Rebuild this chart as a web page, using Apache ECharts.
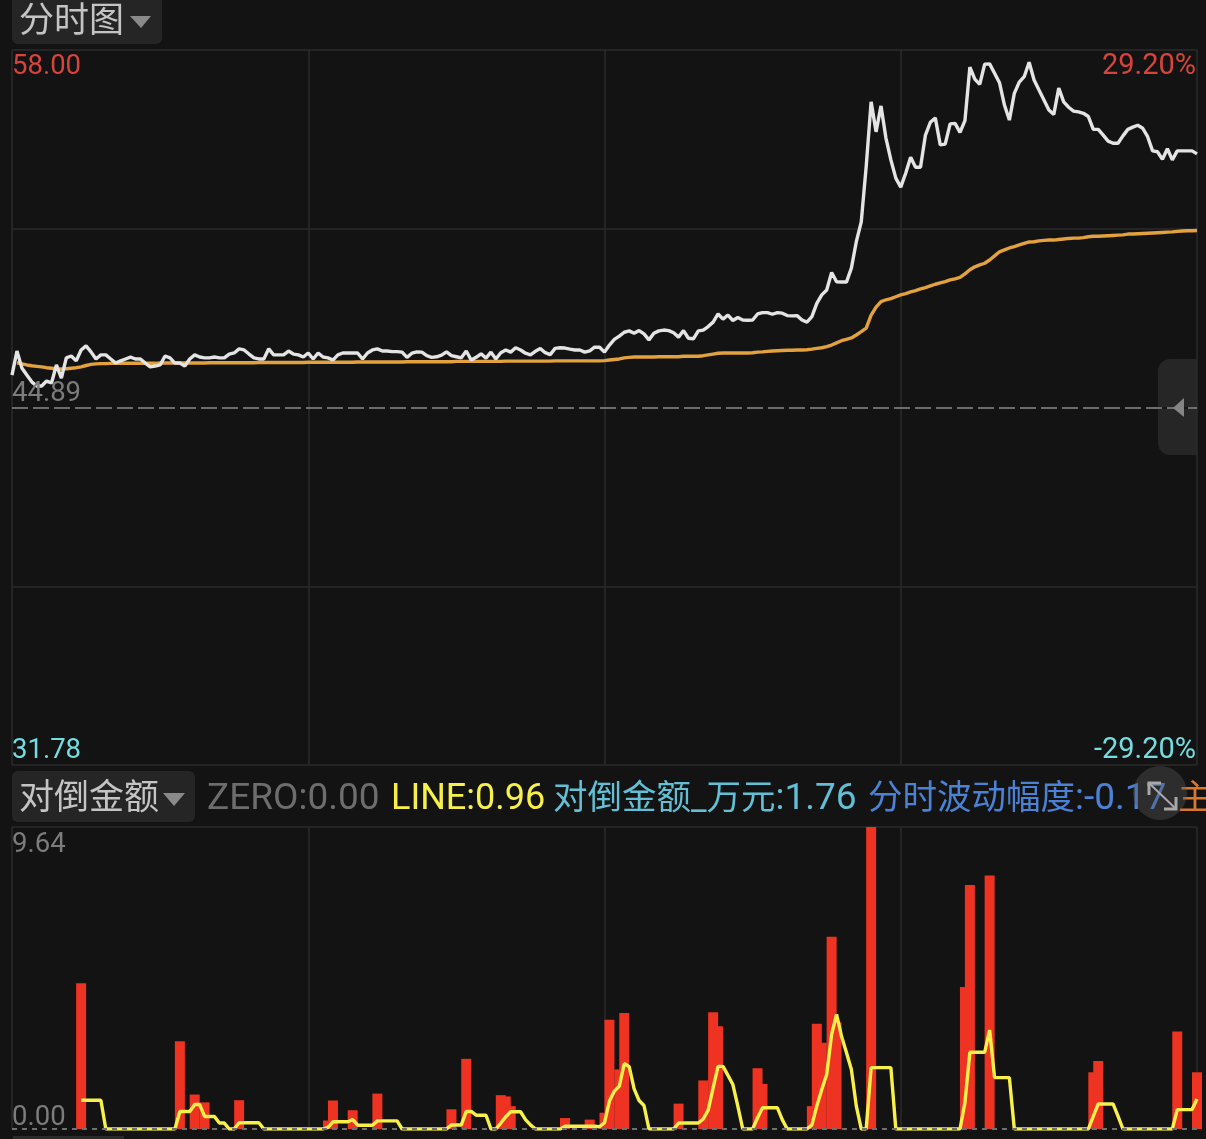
<!DOCTYPE html>
<html lang="zh-CN" style="height: 100%">

<head>
    <meta charset="utf-8" />
    <script src="https://cdn.jsdelivr.net/npm/echarts@6/dist/echarts.min.js"></script>
</head>

<body style="height: 100%; margin: 0; background: #131313">
    <div id="container" style="width: 1206px;height: 1139px;"></div>
    <script type="text/javascript">
        var dom = document.getElementById('container');
        var myChart = echarts.init(dom, null, {
            renderer: 'canvas'
        });

        // 分时价格，每分钟一个点，0..240
        const price = [
            46.08, 46.96, 46.34, 46.08, 45.83, 45.68, 45.68, 45.86, 45.79, 46.45,
            45.97, 46.71, 46.78, 46.60, 47.00, 47.15, 46.93, 46.67, 46.82, 46.82,
            46.67, 46.52, 46.60, 46.67, 46.74, 46.67, 46.67, 46.52, 46.38, 46.41,
            46.45, 46.78, 46.71, 46.52, 46.52, 46.41, 46.67, 46.82, 46.74, 46.71,
            46.71, 46.74, 46.71, 46.71, 46.85, 46.89, 47.04, 47.00, 46.85, 46.71,
            46.67, 46.67, 47.04, 46.82, 46.82, 46.82, 46.96, 46.85, 46.82, 46.74,
            46.89, 46.67, 46.89, 46.74, 46.71, 46.63, 46.82, 46.89, 46.89, 46.89,
            46.89, 46.67, 46.89, 47.00, 47.04, 46.96, 46.96, 46.94, 46.94, 46.92,
            46.73, 46.88, 46.93, 46.92, 46.79, 46.73, 46.75, 46.81, 46.93, 46.79,
            46.75, 46.71, 46.96, 46.63, 46.73, 46.86, 46.70, 46.92, 46.67, 46.90,
            47.00, 46.92, 47.08, 47.00, 46.88, 46.82, 46.95, 47.05, 46.90, 46.83,
            47.06, 47.08, 47.07, 47.03, 47.00, 47.00, 46.92, 46.97, 47.10, 47.10,
            46.92, 47.18, 47.39, 47.51, 47.65, 47.70, 47.61, 47.71, 47.59, 47.37,
            47.61, 47.70, 47.73, 47.71, 47.63, 47.47, 47.71, 47.43, 47.41, 47.70,
            47.73, 47.86, 48.02, 48.32, 48.13, 48.28, 48.08, 48.19, 48.10, 48.09,
            48.10, 48.32, 48.37, 48.37, 48.31, 48.37, 48.35, 48.26, 48.25, 48.26,
            48.10, 48.02, 48.22, 48.71, 49.02, 49.20, 49.84, 49.50, 49.49, 49.49,
            50.00, 50.97, 51.70, 53.72, 56.10, 55.00, 55.95, 54.77, 53.97, 53.30,
            52.97, 53.48, 54.07, 53.70, 53.70, 54.88, 55.35, 55.51, 54.52, 54.55,
            55.29, 55.31, 54.98, 55.41, 57.37, 56.93, 56.74, 57.48, 57.49, 57.15,
            56.80, 55.98, 55.43, 56.41, 56.82, 57.02, 57.55, 56.90, 56.53, 56.17,
            55.80, 55.64, 56.60, 56.10, 55.90, 55.76, 55.73, 55.68, 55.56, 55.09,
            55.09, 54.88, 54.66, 54.58, 54.58, 54.85, 55.09, 55.17, 55.24, 55.13,
            54.82, 54.30, 54.27, 53.99, 54.38, 53.97, 54.30, 54.30, 54.30, 54.30,
            54.19
        ];

        // 均价线
        const avgPrice = [
            null, 46.53, 46.49, 46.45, 46.42, 46.40, 46.38, 46.35, 46.33, 46.30,
            46.30, 46.31, 46.33, 46.35, 46.38, 46.43, 46.47, 46.49, 46.50, 46.50,
            46.51, 46.51, 46.51, 46.51, 46.51, 46.51, 46.51, 46.51, 46.51, 46.51,
            46.52, 46.52, 46.52, 46.52, 46.52, 46.52, 46.52, 46.52, 46.52, 46.52,
            46.53, 46.53, 46.53, 46.53, 46.53, 46.53, 46.53, 46.53, 46.53, 46.53,
            46.54, 46.54, 46.54, 46.54, 46.54, 46.54, 46.54, 46.54, 46.54, 46.54,
            46.55, 46.55, 46.55, 46.55, 46.55, 46.55, 46.55, 46.55, 46.55, 46.55,
            46.56, 46.56, 46.56, 46.56, 46.56, 46.56, 46.56, 46.56, 46.56, 46.56,
            46.57, 46.57, 46.57, 46.57, 46.57, 46.57, 46.57, 46.57, 46.57, 46.57,
            46.58, 46.58, 46.58, 46.58, 46.58, 46.58, 46.58, 46.58, 46.58, 46.58,
            46.59, 46.59, 46.59, 46.59, 46.59, 46.59, 46.59, 46.59, 46.59, 46.59,
            46.60, 46.60, 46.60, 46.60, 46.60, 46.60, 46.60, 46.60, 46.60, 46.60,
            46.61, 46.63, 46.65, 46.67, 46.71, 46.73, 46.74, 46.74, 46.74, 46.74,
            46.74, 46.75, 46.75, 46.75, 46.75, 46.75, 46.77, 46.77, 46.77, 46.77,
            46.79, 46.82, 46.85, 46.88, 46.89, 46.89, 46.89, 46.89, 46.89, 46.89,
            46.90, 46.92, 46.93, 46.95, 46.96, 46.97, 46.98, 46.99, 46.99, 47.00,
            47.00, 47.01, 47.03, 47.06, 47.08, 47.12, 47.18, 47.26, 47.34, 47.39,
            47.44, 47.55, 47.67, 47.80, 48.28, 48.57, 48.77, 48.84, 48.88, 48.95,
            49.02, 49.07, 49.13, 49.18, 49.24, 49.29, 49.35, 49.41, 49.46, 49.51,
            49.57, 49.61, 49.66, 49.79, 49.94, 50.05, 50.12, 50.18, 50.30, 50.45,
            50.60, 50.67, 50.74, 50.79, 50.85, 50.91, 50.96, 50.97, 51.00, 51.02,
            51.03, 51.03, 51.05, 51.07, 51.09, 51.10, 51.10, 51.12, 51.15, 51.17,
            51.17, 51.18, 51.19, 51.20, 51.21, 51.22, 51.25, 51.25, 51.26, 51.27,
            51.28, 51.29, 51.30, 51.31, 51.32, 51.33, 51.35, 51.36, 51.37, 51.37,
            51.38
        ];

        // 对倒金额柱子：第几分钟、数值
        const barMinutes = [14, 34, 37, 39, 46, 64, 65, 69, 74, 89, 92, 99, 100, 101, 112, 117, 120, 121, 123, 124,
            135, 140, 142, 143, 151, 152, 162, 163, 164, 166, 167, 174, 193, 194, 198, 219, 220, 236, 240];
        const barValues = [4.65, 2.80, 1.10, 0.85, 0.92, 0.27, 0.91, 0.60, 1.13, 0.63, 2.24, 1.08, 1.04, 0.73, 0.35, 0.30, 0.52, 3.49, 1.90, 3.70,
            0.81, 1.55, 3.73, 3.28, 1.94, 1.44, 0.73, 3.36, 2.75, 6.14, 3.41, 9.64, 4.53, 7.79, 8.09, 1.81, 2.17, 3.11, 1.81];

        // LINE 黄线的非零点，其余分钟为 0，第 14 分钟之前没有数据
        const lineStart = 14;
        const lineMinutes = [14, 15, 16, 17, 18, 34, 35, 36, 37, 38, 39, 40, 41, 42, 43, 46, 47, 48, 49, 50, 64, 65, 66, 67, 68, 69, 70, 71, 72, 73, 74, 75, 76, 77, 78,
            89, 90, 91, 92, 93, 94, 95, 96, 99, 100, 101, 102, 103, 104, 105, 112, 113, 114, 115, 116, 117, 118, 119, 120, 121, 122, 123, 124, 125, 126, 127, 128,
            135, 136, 137, 138, 139, 140, 141, 142, 143, 144, 145, 146, 147, 151, 152, 153, 154, 155, 156,
            162, 163, 164, 165, 166, 167, 168, 169, 170, 171, 174, 175, 176, 177, 178,
            193, 194, 195, 196, 197, 198, 199, 200, 201, 202, 219, 220, 221, 222, 223, 224, 236, 237, 238, 239, 240];
        const lineValues = [0.92, 0.92, 0.92, 0.92, 0.92, 0.56, 0.56, 0.56, 0.78, 0.78, 0.40, 0.40, 0.40, 0.19, 0.19, 0.20, 0.20, 0.20, 0.20, 0.20, 0.05, 0.23, 0.23, 0.23, 0.23, 0.30, 0.12, 0.12, 0.12, 0.12, 0.26, 0.26, 0.26, 0.26, 0.26,
            0.13, 0.13, 0.13, 0.56, 0.56, 0.44, 0.44, 0.44, 0.19, 0.39, 0.55, 0.55, 0.55, 0.30, 0.13, 0.09, 0.09, 0.09, 0.09, 0.09, 0.09, 0.09, 0.07, 0.20, 0.89, 1.21, 1.37, 2.09, 1.99, 1.28, 0.91, 0.75,
            0.19, 0.19, 0.19, 0.19, 0.19, 0.32, 0.60, 1.31, 2.00, 2.00, 1.71, 1.42, 0.73, 0.36, 0.68, 0.68, 0.68, 0.68, 0.30,
            0.13, 0.73, 1.26, 1.74, 3.02, 3.66, 2.96, 2.44, 1.90, 0.73, 1.96, 1.96, 1.96, 1.96, 1.96,
            0.84, 2.45, 2.45, 2.45, 2.45, 3.16, 1.64, 1.64, 1.64, 1.64, 0.41, 0.80, 0.80, 0.80, 0.80, 0.41, 0.62, 0.62, 0.62, 0.62, 0.96];

        const minutes = price.map(function (v, i) { return i; });
        const priceMin = 31.78, priceMax = 58.00, priceMid = 44.89;
        const pctMax = 29.20;
        const subMax = 9.64;

        const mainTitle = '分时图';
        const subTitle = '对倒金额';
        // 指标读数：中文部分和数字部分字号不同
        const legendNames = ['ZERO', 'LINE', '对倒金额_万元', '分时波动幅度'];
        const legendValues = [':0.00', ':0.96', ':1.76', ':-0.17'];
        const extraLegend = '主';

        const colors = {
            bg: '#131313', grid: '#2b2b2b', white: '#e4e4e4', orange: '#e3a23e', yellow: '#f8f04a', bar: '#ee3322',
            red: '#d9433b', cyan: '#74dde0', grey: '#7c7c7c', tab: '#252525', tabText: '#c4c4c4', arrow: '#8a8a8a'
        };
        const fontFamily = 'Roboto, "Noto Sans CJK SC", sans-serif';

        const barData = minutes.map(function () { return null; });
        barMinutes.forEach(function (m, i) { barData[m] = barValues[i]; });
        const lineData = minutes.map(function (m) { return m < lineStart ? null : 0; });
        lineMinutes.forEach(function (m, i) { lineData[m] = lineValues[i]; });

        function xAxisFor(gridIndex) {
            return {
                type: 'category',
                gridIndex: gridIndex,
                boundaryGap: false,
                data: minutes,
                axisLine: { show: false },
                axisTick: { show: false },
                axisLabel: { show: false },
                splitLine: {
                    show: true,
                    interval: function (index) { return index % 60 === 0; },
                    lineStyle: { color: colors.grid, width: 1.5 }
                }
            };
        }

        function legendText(x, index, color, latinSize) {
            const isLatin = /^[A-Z]+$/.test(legendNames[index]);
            return {
                type: 'text', x: x, y: 800, z: 5,
                style: {
                    text: '{n|' + legendNames[index] + '}{v|' + legendValues[index] + '}',
                    verticalAlign: 'middle',
                    rich: {
                        n: { fill: color, fontFamily: fontFamily, fontSize: isLatin ? latinSize : 34.5 },
                        v: { fill: color, fontFamily: fontFamily, fontSize: latinSize }
                    }
                }
            };
        }

        var option = {
            backgroundColor: colors.bg,
            animation: false,
            grid: [
                { left: 12, right: 9, top: 50, height: 715 },
                { left: 12, right: 9, top: 827, height: 302 }
            ],
            xAxis: [xAxisFor(0), xAxisFor(1)],
            yAxis: [
                {
                    type: 'value', gridIndex: 0, min: priceMin, max: priceMax, interval: (priceMax - priceMin) / 4,
                    axisLine: { show: false }, axisTick: { show: false },
                    axisLabel: {
                        inside: true, margin: 0, fontSize: 27.5, fontFamily: fontFamily, padding: [3, 0, 0, 0],
                        verticalAlignMinLabel: 'bottom', verticalAlignMaxLabel: 'top',
                        formatter: function (v, i) { return i === 0 || i === 4 ? v.toFixed(2) : ''; },
                        color: function (v) { return v > priceMid ? colors.red : colors.cyan; }
                    },
                    splitLine: { lineStyle: { color: [colors.grid, colors.grid, colors.bg, colors.grid, colors.grid], width: 1.5 } }
                },
                {
                    type: 'value', gridIndex: 0, position: 'right', min: -pctMax, max: pctMax, interval: pctMax / 2,
                    axisLine: { show: false }, axisTick: { show: false }, splitLine: { show: false },
                    axisLabel: {
                        inside: true, margin: 1, fontSize: 29, fontFamily: fontFamily, padding: [2, 0, 0, 0],
                        verticalAlignMinLabel: 'bottom', verticalAlignMaxLabel: 'top',
                        formatter: function (v, i) { return i === 0 || i === 4 ? v.toFixed(2) + '%' : ''; },
                        color: function (v) { return v > 0 ? colors.red : colors.cyan; }
                    }
                },
                {
                    type: 'value', gridIndex: 1, min: 0, max: subMax, interval: subMax,
                    axisLine: { show: false }, axisTick: { show: false },
                    axisLabel: {
                        inside: true, margin: 0, fontSize: 27.5, lineHeight: 22, fontFamily: fontFamily, color: colors.grey, padding: [7, 0, 0, 0],
                        verticalAlignMinLabel: 'bottom', verticalAlignMaxLabel: 'top',
                        formatter: function (v) { return v.toFixed(2); }
                    },
                    splitLine: { lineStyle: { color: [colors.bg, colors.grid], width: 1.5 } }
                }
            ],
            series: [
                {
                    name: 'price', type: 'line', xAxisIndex: 0, yAxisIndex: 0, data: price, showSymbol: false,
                    lineStyle: { color: colors.white, width: 3.4 }, z: 4,
                    markLine: {
                        silent: true, symbol: 'none', animation: false,
                        lineStyle: { color: '#8c8c8c', type: [16, 5], width: 1.5 },
                        label: { position: 'insideStartTop', distance: 0, color: colors.grey, fontSize: 27.5, fontFamily: fontFamily, formatter: priceMid.toFixed(2) },
                        data: [{ yAxis: priceMid }]
                    }
                },
                {
                    name: 'avg', type: 'line', xAxisIndex: 0, yAxisIndex: 0, data: avgPrice, showSymbol: false,
                    lineStyle: { color: colors.orange, width: 3.4 }, z: 3
                },
                {
                    name: '对倒金额', type: 'bar', xAxisIndex: 1, yAxisIndex: 2, data: barData, barWidth: 10, clip: false,
                    itemStyle: { color: colors.bar }, z: 2,
                    markLine: {
                        silent: true, symbol: 'none', animation: false, label: { show: false },
                        lineStyle: { color: '#6f6f6f', type: [5, 5], width: 2 },
                        data: [{ yAxis: 0 }]
                    }
                },
                {
                    name: 'LINE', type: 'line', xAxisIndex: 1, yAxisIndex: 2, data: lineData, showSymbol: false,
                    lineStyle: { color: colors.yellow, width: 3.4 }, z: 4
                }
            ],
            graphic: [
                // 顶部标签
                { type: 'rect', z: 1, shape: { x: 12, y: -10, width: 150, height: 54, r: 6 }, style: { fill: colors.tab } },
                { type: 'text', x: 19, y: 23, z: 5, style: { text: mainTitle, fill: colors.tabText, verticalAlign: 'middle', font: '35px ' + fontFamily } },
                { type: 'polygon', z: 5, shape: { points: [[130, 16], [151, 16], [141, 28]] }, style: { fill: colors.arrow } },
                // 副图标签
                { type: 'rect', z: 1, shape: { x: 12, y: 771, width: 183, height: 51, r: 6 }, style: { fill: colors.tab } },
                { type: 'text', x: 19, y: 800, z: 5, style: { text: subTitle, fill: colors.tabText, verticalAlign: 'middle', font: '35px ' + fontFamily } },
                { type: 'polygon', z: 5, shape: { points: [[163, 793], [185, 793], [174, 806]] }, style: { fill: colors.arrow } },
                // 指标读数
                legendText(207, 0, '#6d6d6d', 37),
                legendText(391, 1, colors.yellow, 36),
                legendText(553, 2, '#62bfd6', 37),
                legendText(868, 3, '#4b82d6', 37),
                { type: 'text', x: 1178, y: 800, z: 5, style: { text: extraLegend, fill: '#d9772f', verticalAlign: 'middle', font: '34px ' + fontFamily } },
                // 展开按钮
                { type: 'circle', z: 6, shape: { cx: 1160, cy: 793, r: 27 }, style: { fill: 'rgba(90,90,90,0.38)' } },
                { type: 'polyline', z: 7, shape: { points: [[1149, 795], [1149, 783], [1161, 783]] }, style: { stroke: '#a8a8a8', lineWidth: 3, fill: null } },
                { type: 'polyline', z: 7, shape: { points: [[1176, 797], [1176, 809], [1164, 809]] }, style: { stroke: '#a8a8a8', lineWidth: 3, fill: null } },
                { type: 'line', z: 7, shape: { x1: 1150, y1: 784, x2: 1175, y2: 808 }, style: { stroke: '#a8a8a8', lineWidth: 2 } },
                // 右侧收起把手
                { type: 'rect', z: 0, shape: { x: 1158, y: 359, width: 39, height: 96, r: [12, 0, 0, 12] }, style: { fill: '#262626' } },
                { type: 'polygon', z: 8, shape: { points: [[1173, 408], [1184, 398], [1184, 417]] }, style: { fill: '#858585' } },
                // 底部滚动条
                { type: 'rect', z: 1, shape: { x: 13, y: 1136, width: 111, height: 3 }, style: { fill: '#2a2a2a' } }
            ]
        };

        if (option && typeof option === 'object') {
            myChart.setOption(option);
        }

        window.addEventListener('resize', myChart.resize);
    </script>
</body>

</html>
